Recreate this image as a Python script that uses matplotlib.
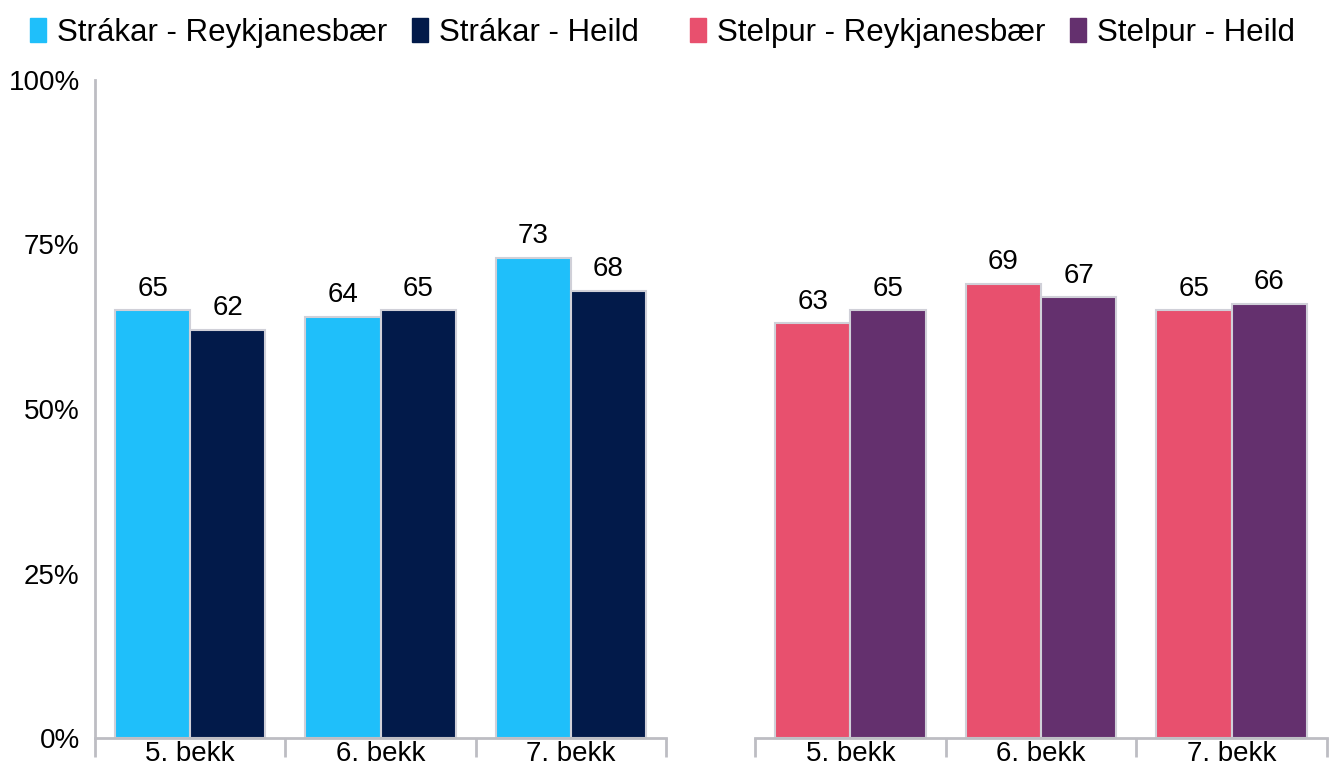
import numpy as np
import matplotlib.pyplot as plt
from matplotlib.patches import Patch

plt.rcParams['font.family'] = ['Liberation Sans', 'DejaVu Sans']

categories = ['5. bekk', '6. bekk', '7. bekk']
boys_reykjanes = [65, 64, 73]
boys_total = [62, 65, 68]
girls_reykjanes = [63, 69, 65]
girls_total = [65, 67, 66]

labels_boys = ['Strákar - Reykjanesbær', 'Strákar - Heild']
labels_girls = ['Stelpur - Reykjanesbær', 'Stelpur - Heild']
yticks = [0, 25, 50, 75, 100]
ytick_labels = ['0%', '25%', '50%', '75%', '100%']

c_lightblue = '#1FBFFA'
c_navy = '#021A4A'
c_pink = '#E8506E'
c_purple = '#64306E'
c_axis = '#BDBDC3'
FS = 20

fig = plt.figure(figsize=(13.29, 7.67), dpi=100)
ax1 = fig.add_axes([95/1329, 1-738/767, 571/1329, 658/767])
ax2 = fig.add_axes([755/1329, 1-738/767, 572/1329, 658/767])

x = np.arange(len(categories))
w = 0.395


def panel(ax, a, b, ca, cb, show_y):
    bars_a = ax.bar(x - w/2, a, w, color=ca, edgecolor='#D0D0D8', linewidth=1.5)
    bars_b = ax.bar(x + w/2, b, w, color=cb, edgecolor='#D0D0D8', linewidth=1.5)
    for bars in (bars_a, bars_b):
        for r in bars:
            ax.text(r.get_x() + r.get_width()/2, r.get_height() + 1.3,
                    '%d' % round(r.get_height()), ha='center', va='bottom', fontsize=FS)
    ax.set_xlim(-0.5, 2.5)
    ax.set_ylim(0, 100)
    ax.set_xticks(x)
    ax.set_xticklabels(categories, fontsize=FS)
    ax.tick_params(axis='x', which='major', length=0, pad=2)
    ax.set_xticks([-0.5, 0.5, 1.5, 2.5], minor=True)
    ax.tick_params(axis='x', which='minor', length=14, width=2, color=c_axis)
    for s in ['top', 'right']:
        ax.spines[s].set_visible(False)
    ax.spines['bottom'].set_color(c_axis)
    ax.spines['bottom'].set_linewidth(2)
    if show_y:
        ax.spines['left'].set_color(c_axis)
        ax.spines['left'].set_linewidth(2)
        ax.set_yticks(yticks)
        ax.set_yticklabels(ytick_labels, fontsize=FS)
        ax.tick_params(axis='y', length=0, pad=11)
    else:
        ax.spines['left'].set_visible(False)
        ax.set_yticks([])


panel(ax1, boys_reykjanes, boys_total, c_lightblue, c_navy, True)
panel(ax2, girls_reykjanes, girls_total, c_pink, c_purple, False)

leg_kw = dict(loc='upper left', frameon=False, ncol=2, fontsize=22.5,
              handlelength=0.51, handleheight=0.77, handletextpad=0.35,
              columnspacing=0.8, borderaxespad=0, borderpad=0)
fig.legend([Patch(color=c_lightblue), Patch(color=c_navy)], labels_boys,
           bbox_to_anchor=(30/1329, 1-18/767), **leg_kw)
fig.legend([Patch(color=c_pink), Patch(color=c_purple)], labels_girls,
           bbox_to_anchor=(690/1329, 1-18/767), **leg_kw)

fig.savefig('out.png', dpi=100)
